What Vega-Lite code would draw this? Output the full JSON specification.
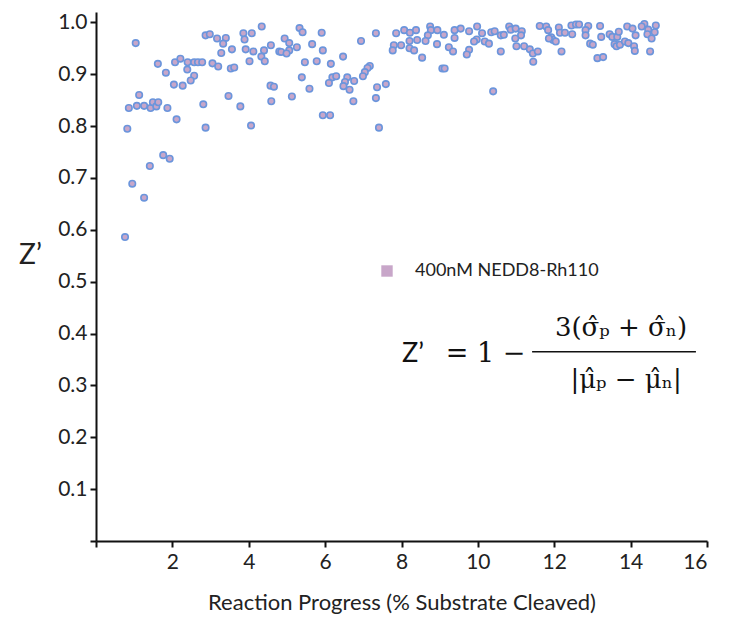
{
  "$schema": "https://vega.github.io/schema/vega-lite/v6.json",
  "autosize": {"type": "none"},
  "width": 611,
  "height": 529,
  "padding": {"left": 96, "top": 12, "right": 29, "bottom": 76},
  "background": "white",
  "config": {
    "view": {"stroke": null},
    "font": "Lato",
    "axis": {
      "domainColor": "#111", "domainWidth": 2, "tickColor": "#111", "tickWidth": 2, "tickSize": 6,
      "labelFont": "Lato", "labelFontSize": 21, "labelColor": "#222", "grid": false,
      "titleFont": "Lato", "titleColor": "#222", "titleFontWeight": "normal"
    }
  },
  "datasets": {
    "points": [
      {"progress":1.04,"zprime":0.960},{"progress":2.87,"zprime":0.975},{"progress":2.98,"zprime":0.977},{"progress":3.17,"zprime":0.969},
      {"progress":1.62,"zprime":0.920},{"progress":1.83,"zprime":0.903},{"progress":2.07,"zprime":0.923},{"progress":2.21,"zprime":0.930},
      {"progress":2.40,"zprime":0.923},{"progress":2.57,"zprime":0.923},{"progress":2.67,"zprime":0.923},{"progress":2.78,"zprime":0.923},
      {"progress":3.05,"zprime":0.921},{"progress":3.20,"zprime":0.915},{"progress":2.39,"zprime":0.909},{"progress":2.57,"zprime":0.897},
      {"progress":2.48,"zprime":0.888},{"progress":2.04,"zprime":0.880},{"progress":2.27,"zprime":0.878},{"progress":1.13,"zprime":0.860},
      {"progress":0.86,"zprime":0.835},{"progress":1.07,"zprime":0.839},{"progress":1.26,"zprime":0.839},{"progress":1.43,"zprime":0.835},
      {"progress":1.49,"zprime":0.846},{"progress":1.58,"zprime":0.838},{"progress":1.63,"zprime":0.846},{"progress":1.87,"zprime":0.835},
      {"progress":2.81,"zprime":0.842},{"progress":2.11,"zprime":0.813},{"progress":0.82,"zprime":0.795},{"progress":2.87,"zprime":0.797},
      {"progress":1.76,"zprime":0.744},{"progress":1.93,"zprime":0.737},{"progress":1.41,"zprime":0.723},{"progress":0.95,"zprime":0.689},
      {"progress":1.26,"zprime":0.662},{"progress":0.76,"zprime":0.586},{"progress":4.34,"zprime":0.992},{"progress":5.33,"zprime":0.989},
      {"progress":5.41,"zprime":0.981},{"progress":5.91,"zprime":0.980},{"progress":3.86,"zprime":0.979},{"progress":4.08,"zprime":0.979},
      {"progress":3.89,"zprime":0.967},{"progress":3.40,"zprime":0.970},{"progress":3.33,"zprime":0.959},{"progress":4.94,"zprime":0.969},
      {"progress":5.06,"zprime":0.960},{"progress":4.58,"zprime":0.956},{"progress":5.66,"zprime":0.958},{"progress":5.26,"zprime":0.952},
      {"progress":3.56,"zprime":0.948},{"progress":3.92,"zprime":0.948},{"progress":4.12,"zprime":0.944},{"progress":4.40,"zprime":0.946},
      {"progress":4.80,"zprime":0.944},{"progress":4.85,"zprime":0.943},{"progress":5.06,"zprime":0.946},{"progress":4.99,"zprime":0.940},
      {"progress":5.94,"zprime":0.946},{"progress":3.28,"zprime":0.941},{"progress":4.33,"zprime":0.934},{"progress":4.42,"zprime":0.925},
      {"progress":4.02,"zprime":0.925},{"progress":5.47,"zprime":0.923},{"progress":5.78,"zprime":0.925},{"progress":6.15,"zprime":0.920},
      {"progress":3.53,"zprime":0.911},{"progress":3.62,"zprime":0.913},{"progress":5.39,"zprime":0.894},{"progress":6.19,"zprime":0.894},
      {"progress":6.10,"zprime":0.883},{"progress":4.57,"zprime":0.878},{"progress":4.66,"zprime":0.876},{"progress":5.59,"zprime":0.872},
      {"progress":3.47,"zprime":0.858},{"progress":4.59,"zprime":0.848},{"progress":5.13,"zprime":0.857},{"progress":3.78,"zprime":0.838},
      {"progress":5.94,"zprime":0.821},{"progress":6.13,"zprime":0.821},{"progress":4.06,"zprime":0.801},{"progress":7.33,"zprime":0.979},
      {"progress":6.94,"zprime":0.964},{"progress":7.86,"zprime":0.979},{"progress":8.07,"zprime":0.985},{"progress":8.22,"zprime":0.980},
      {"progress":8.38,"zprime":0.985},{"progress":8.75,"zprime":0.992},{"progress":8.77,"zprime":0.985},{"progress":8.94,"zprime":0.985},
      {"progress":9.11,"zprime":0.976},{"progress":9.39,"zprime":0.985},{"progress":9.39,"zprime":0.970},{"progress":8.69,"zprime":0.975},
      {"progress":8.63,"zprime":0.964},{"progress":8.41,"zprime":0.966},{"progress":8.21,"zprime":0.964},{"progress":7.80,"zprime":0.956},
      {"progress":7.99,"zprime":0.956},{"progress":7.77,"zprime":0.946},{"progress":8.21,"zprime":0.950},{"progress":8.33,"zprime":0.946},
      {"progress":8.93,"zprime":0.958},{"progress":9.24,"zprime":0.952},{"progress":9.35,"zprime":0.944},{"progress":8.54,"zprime":0.932},
      {"progress":6.47,"zprime":0.934},{"progress":6.29,"zprime":0.896},{"progress":6.58,"zprime":0.894},{"progress":6.76,"zprime":0.887},
      {"progress":6.52,"zprime":0.885},{"progress":6.48,"zprime":0.877},{"progress":6.64,"zprime":0.870},{"progress":7.17,"zprime":0.916},
      {"progress":7.11,"zprime":0.912},{"progress":7.04,"zprime":0.904},{"progress":6.99,"zprime":0.896},{"progress":7.59,"zprime":0.881},
      {"progress":7.36,"zprime":0.875},{"progress":7.33,"zprime":0.854},{"progress":6.74,"zprime":0.848},{"progress":9.07,"zprime":0.911},
      {"progress":9.13,"zprime":0.911},{"progress":7.41,"zprime":0.797},{"progress":9.55,"zprime":0.988},{"progress":9.77,"zprime":0.983},
      {"progress":9.98,"zprime":0.992},{"progress":10.11,"zprime":0.979},{"progress":10.35,"zprime":0.981},{"progress":10.44,"zprime":0.983},
      {"progress":10.60,"zprime":0.975},{"progress":10.68,"zprime":0.976},{"progress":10.82,"zprime":0.992},{"progress":10.86,"zprime":0.986},
      {"progress":10.99,"zprime":0.988},{"progress":11.15,"zprime":0.983},{"progress":11.13,"zprime":0.975},{"progress":10.98,"zprime":0.969},
      {"progress":11.62,"zprime":0.993},{"progress":11.79,"zprime":0.992},{"progress":11.84,"zprime":0.985},{"progress":12.12,"zprime":0.990},
      {"progress":11.92,"zprime":0.971},{"progress":11.97,"zprime":0.966},{"progress":12.04,"zprime":0.963},{"progress":12.15,"zprime":0.980},
      {"progress":12.28,"zprime":0.980},{"progress":12.47,"zprime":0.977},{"progress":12.45,"zprime":0.994},{"progress":12.57,"zprime":0.996},
      {"progress":9.97,"zprime":0.967},{"progress":9.90,"zprime":0.963},{"progress":10.18,"zprime":0.963},{"progress":10.29,"zprime":0.959},
      {"progress":9.77,"zprime":0.947},{"progress":9.71,"zprime":0.938},{"progress":10.60,"zprime":0.944},{"progress":11.01,"zprime":0.954},
      {"progress":11.21,"zprime":0.954},{"progress":11.36,"zprime":0.948},{"progress":11.44,"zprime":0.940},{"progress":11.57,"zprime":0.944},
      {"progress":11.45,"zprime":0.924},{"progress":12.19,"zprime":0.944},{"progress":10.40,"zprime":0.867},{"progress":12.65,"zprime":0.996},
      {"progress":12.89,"zprime":0.993},{"progress":12.82,"zprime":0.985},{"progress":12.82,"zprime":0.975},{"progress":13.20,"zprime":0.993},
      {"progress":13.23,"zprime":0.972},{"progress":13.45,"zprime":0.977},{"progress":13.52,"zprime":0.972},{"progress":13.65,"zprime":0.972},
      {"progress":13.69,"zprime":0.982},{"progress":13.91,"zprime":0.992},{"progress":14.05,"zprime":0.988},{"progress":14.13,"zprime":0.975},
      {"progress":14.36,"zprime":0.997},{"progress":14.29,"zprime":0.992},{"progress":14.46,"zprime":0.986},{"progress":14.66,"zprime":0.994},
      {"progress":14.63,"zprime":0.981},{"progress":14.44,"zprime":0.977},{"progress":14.55,"zprime":0.969},{"progress":12.94,"zprime":0.959},
      {"progress":13.01,"zprime":0.957},{"progress":13.58,"zprime":0.958},{"progress":13.63,"zprime":0.954},{"progress":13.72,"zprime":0.957},
      {"progress":13.85,"zprime":0.963},{"progress":13.94,"zprime":0.960},{"progress":14.09,"zprime":0.954},{"progress":14.11,"zprime":0.945},
      {"progress":14.51,"zprime":0.944},{"progress":13.13,"zprime":0.931},{"progress":13.28,"zprime":0.933},{"progress":11.86,"zprime":0.969}
    ]
  },
  "layer": [
    {
      "data": {"name": "points"},
      "mark": {"type": "point", "filled": true, "size": 42, "stroke": "#6b95dc", "strokeWidth": 1.6, "opacity": 1},
      "encoding": {
        "x": {
          "field": "progress", "type": "quantitative",
          "scale": {"domain": [0, 16], "nice": false, "zero": true},
          "axis": {"values": [0,2,4,6,8,10,12,14,16], "labelExpr": "datum.value == 0 ? '' : datum.label", "labelPadding": 4,
                   "title": "Reaction Progress (% Substrate Cleaved)", "titleFontSize": 22, "titlePadding": 20}
        },
        "y": {
          "field": "zprime", "type": "quantitative",
          "scale": {"domain": [0, 1.02], "nice": false},
          "axis": {"values": [0,0.1,0.2,0.3,0.4,0.5,0.6,0.7,0.8,0.9,1.0], "format": ".1f",
                   "labelExpr": "datum.value == 0 ? '' : datum.label", "labelPadding": 3,
                   "title": "Z\u2019", "titleAngle": 0, "titleFontSize": 28, "titleX": -66, "titleY": 243,
                   "titleAlign": "center", "titleBaseline": "middle"}
        },
        "color": {
          "datum": "400nM NEDD8-Rh110", "type": "nominal",
          "scale": {"range": ["#c8a6c9"]},
          "legend": {
            "title": null, "orient": "none", "legendX": 282, "legendY": 250, "padding": 0,
            "symbolType": "square", "symbolSize": 130, "symbolStrokeWidth": 0,
            "labelFont": "Lato", "labelFontSize": 18, "labelColor": "#222", "labelOffset": 19, "labelLimit": 0,
            "encode": {"symbols": {"update": {"fill": {"value": "#bcaed6"}, "stroke": {"value": "transparent"}, "shape": {"value": "square"}}}}
          }
        }
      }
    },
    {
      "data": {"values": [{}]},
      "mark": {"type": "text", "font": "Lato", "fontSize": 27, "color": "#111", "align": "center", "baseline": "middle"},
      "encoding": {"x": {"datum": 8.3}, "y": {"datum": 0.36}, "text": {"value": "Z\u2019"}}
    },
    {
      "data": {"values": [{}]},
      "mark": {"type": "text", "font": "DejaVu Serif", "fontSize": 27, "color": "#111", "align": "center", "baseline": "middle"},
      "encoding": {"x": {"datum": 10.2}, "y": {"datum": 0.36}, "text": {"value": "= 1 \u2212"}}
    },
    {
      "data": {"values": [{}]},
      "mark": {"type": "rule", "color": "#111", "strokeWidth": 1.6},
      "encoding": {"x": {"datum": 11.42}, "x2": {"datum": 15.71}, "y": {"datum": 0.365}}
    },
    {
      "data": {"values": [{}]},
      "mark": {"type": "text", "font": "DejaVu Serif", "fontSize": 26, "color": "#111", "align": "center", "baseline": "middle"},
      "encoding": {"x": {"datum": 13.75}, "y": {"datum": 0.411}, "text": {"value": "3(\u03c3\u0302\u209a + \u03c3\u0302\u2099)"}}
    },
    {
      "data": {"values": [{}]},
      "mark": {"type": "text", "font": "DejaVu Serif", "fontSize": 26, "color": "#111", "align": "center", "baseline": "middle"},
      "encoding": {"x": {"datum": 13.88}, "y": {"datum": 0.311}, "text": {"value": "|\u03bc\u0302\u209a \u2212 \u03bc\u0302\u2099|"}}
    }
  ]
}
